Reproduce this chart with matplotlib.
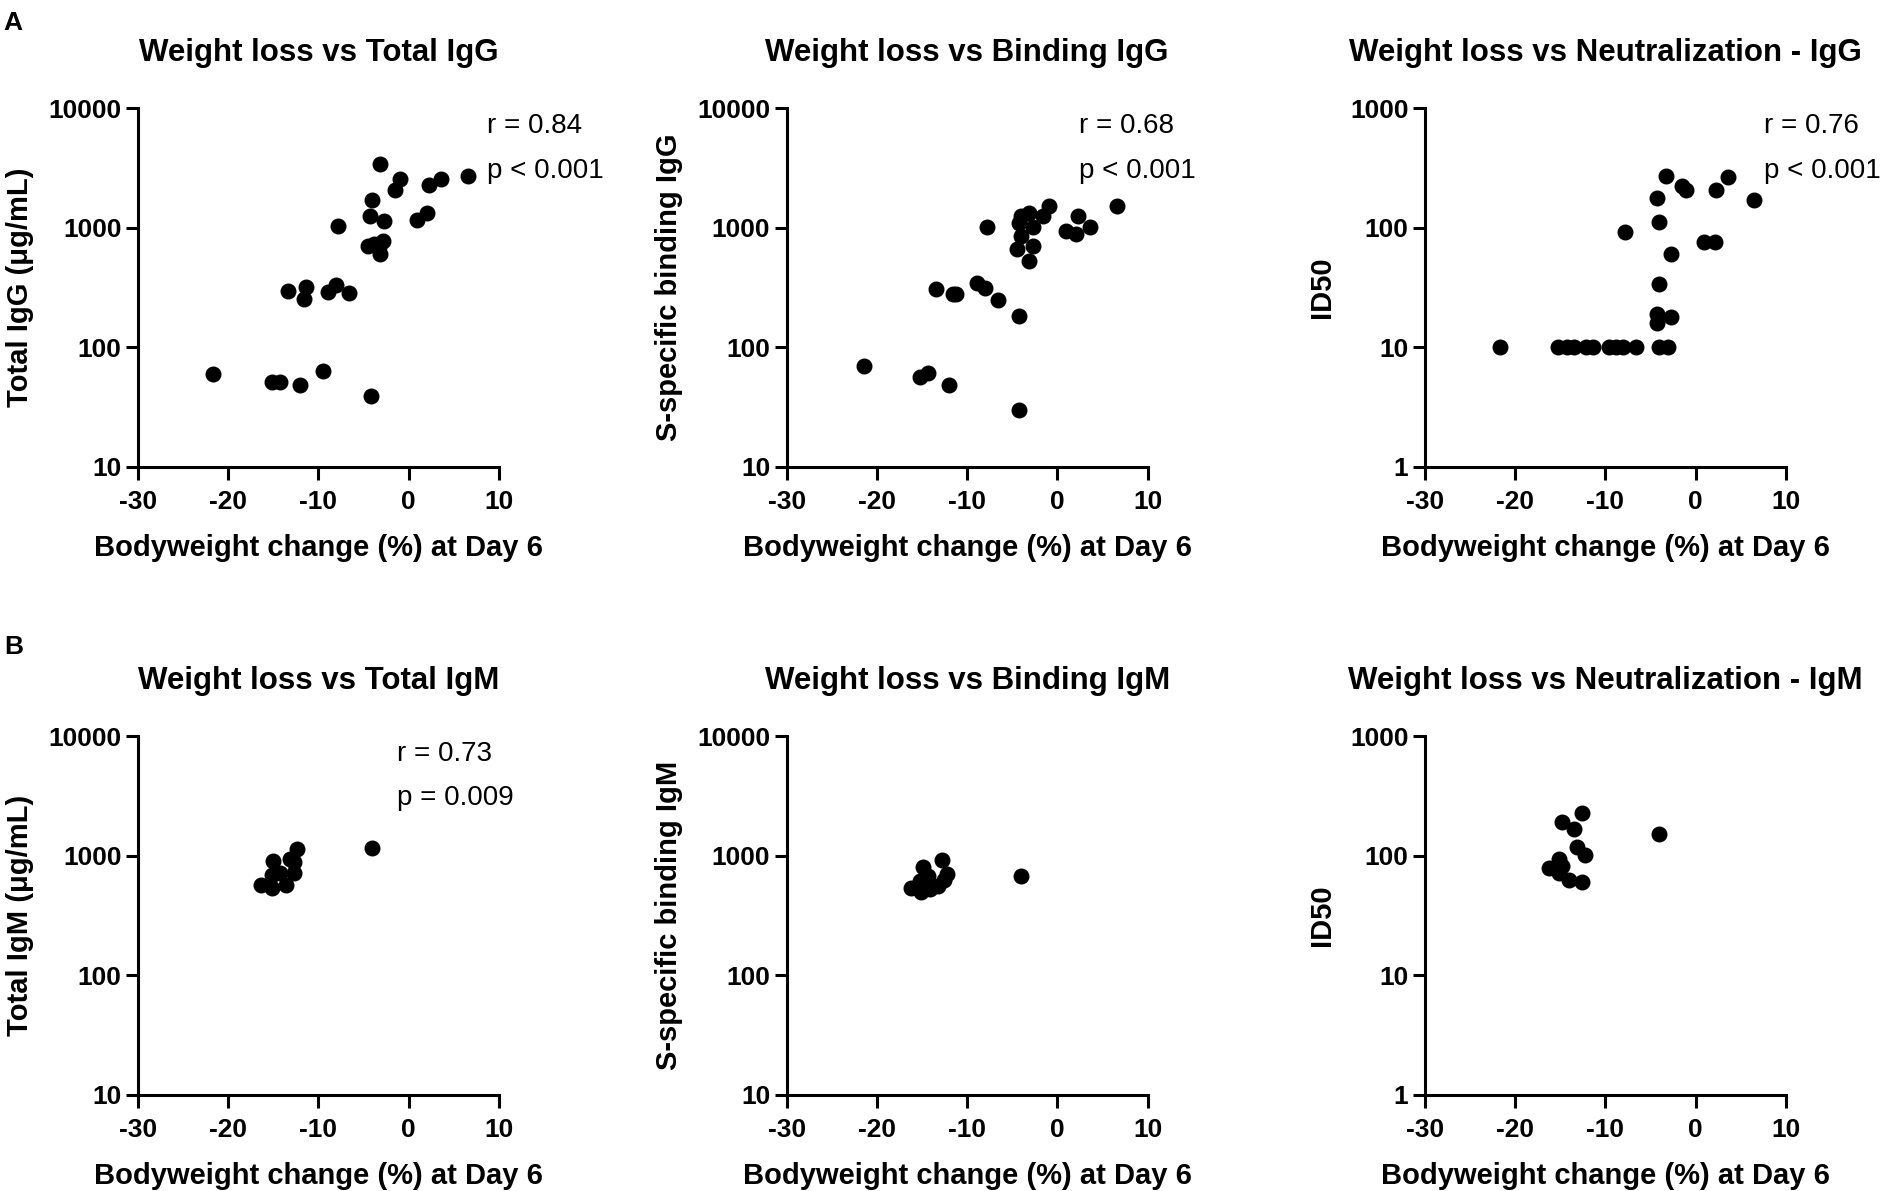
import matplotlib
matplotlib.use('Agg')
import matplotlib.pyplot as plt

plt.rcParams['font.family'] = ['Liberation Sans', 'DejaVu Sans']
plt.rcParams['axes.unicode_minus'] = False

# row A: IgG
igg_total_x = [-21.7, -15.2, -14.3, -12.0, -9.5, -4.2, -13.4, -11.4, -11.6, -8.9, -8.0, -6.6, -7.8, -4.3, -4.0,
               -2.7, -3.2, -1.5, -0.9, 0.9, 2.1, 2.3, 3.6, 6.6, -4.5, -3.8, -3.3, -2.8, -3.2]
igg_total_y = [60, 51, 51, 48, 64, 39, 294, 321, 254, 288, 330, 283, 1045, 1265, 1698,
               1150, 3447, 2070, 2555, 1160, 1324, 2291, 2555, 2722, 700, 740, 690, 780, 600]
igg_bind_x = [-21.5, -15.2, -14.3, -12.0, -4.3, -13.5, -11.6, -11.3, -8.9, -8.0, -6.6, -4.3, -7.8, -4.3,
              -4.0, -3.2, -4.0, -4.5, -2.7, -3.2, -2.7, -1.6, -0.9, 0.9, 2.1, 2.3, 3.6, 6.6]
igg_bind_y = [70, 56, 61, 48, 30, 308, 282, 278, 348, 316, 251, 184, 1013, 1100,
              1268, 1342, 852, 660, 703, 528, 1013, 1268, 1515, 938, 891, 1268, 1026, 1535]
igg_neut_x = [-21.7, -15.2, -14.3, -13.5, -12.2, -11.4, -9.6, -8.8, -8.0, -6.6, -4.1, -3.1, -7.8, -4.3,
              -4.0, -3.3, -2.7, -4.0, -4.3, -4.3, -2.7, -1.5, -1.0, 0.9, 2.2, 2.3, 3.6, 6.5]
igg_neut_y = [10, 10, 10, 10, 10, 10, 10, 10, 10, 10, 10, 10, 92, 178,
              111, 272, 61, 34, 19, 16, 18, 225, 207, 76, 76, 208, 264, 172]

# row B: IgM
igm_total_x = [-16.4, -15.2, -15.0, -15.2, -14.3, -13.6, -13.2, -12.7, -12.7, -12.4, -4.1]
igm_total_y = [563, 535, 903, 691, 713, 570, 932, 875, 713, 1129, 1150]
igm_bind_x = [-16.2, -15.1, -14.9, -15.2, -14.1, -13.2, -12.8, -12.3, -12.6, -14.3, -4.0]
igm_bind_y = [536, 493, 800, 608, 520, 560, 920, 705, 630, 670, 669]
igm_neut_x = [-16.3, -15.1, -14.8, -14.8, -15.1, -14.0, -13.5, -13.2, -12.6, -12.3, -12.6, -4.0]
igm_neut_y = [79, 93, 189, 81, 71, 63, 166, 119, 225, 101, 60, 150]

titles = ['Weight loss vs Total IgG', 'Weight loss vs Binding IgG', 'Weight loss vs Neutralization - IgG',
          'Weight loss vs Total IgM', 'Weight loss vs Binding IgM', 'Weight loss vs Neutralization - IgM']
ylabels = ['Total IgG (\u03bcg/mL)', 'S-specific binding IgG', 'ID50',
           'Total IgM (\u03bcg/mL)', 'S-specific binding IgM', 'ID50']
stats = [('r = 0.84', 'p < 0.001'), ('r = 0.68', 'p < 0.001'), ('r = 0.76', 'p < 0.001'),
         ('r = 0.73', 'p = 0.009'), None, None]
stat_x = [0.967, 0.81, 0.94, 0.717, 0, 0]
xs = [igg_total_x, igg_bind_x, igg_neut_x, igm_total_x, igm_bind_x, igm_neut_x]
ys = [igg_total_y, igg_bind_y, igg_neut_y, igm_total_y, igm_bind_y, igm_neut_y]
neut = [False, False, True, False, False, True]

fig = plt.figure(figsize=(18.84, 11.91), dpi=100)
lefts = [0.0733, 0.4177, 0.7564]
bottoms = [0.608, 0.081]
w, h = 0.1914, 0.301

for i in range(6):
    ax = fig.add_axes([lefts[i % 3], bottoms[i // 3], w, h])
    ax.scatter(xs[i], ys[i], s=110, color='black', zorder=3, clip_on=False)
    ax.set_yscale('log')
    ax.set_xlim(-30, 10)
    if neut[i]:
        ax.set_ylim(1, 1000)
        ax.set_yticks([1, 10, 100, 1000])
        ax.set_yticklabels(['1', '10', '100', '1000'])
    else:
        ax.set_ylim(10, 10000)
        ax.set_yticks([10, 100, 1000, 10000])
        ax.set_yticklabels(['10', '100', '1000', '10000'])
    ax.minorticks_off()
    ax.set_xticks([-30, -20, -10, 0, 10])
    ax.spines[['top', 'right']].set_visible(False)
    for s in ['left', 'bottom']:
        ax.spines[s].set_linewidth(2.2)
    ax.tick_params(width=2.2, length=9, labelsize=19)
    ax.tick_params(axis='x', pad=8)
    ax.tick_params(axis='y', pad=3)
    for lab in ax.get_xticklabels() + ax.get_yticklabels():
        lab.set_fontweight('bold')
    ax.set_title(titles[i], fontsize=22.5, fontweight='bold', pad=34)
    ax.set_xlabel('Bodyweight change (%) at Day 6', fontsize=21, fontweight='bold', labelpad=14)
    ax.set_ylabel(ylabels[i], fontsize=21, fontweight='bold', labelpad=10)
    if stats[i]:
        ax.text(stat_x[i], 0.95, stats[i][0], transform=ax.transAxes, fontsize=20, va='center', ha='left', clip_on=False)
        ax.text(stat_x[i], 0.826, stats[i][1], transform=ax.transAxes, fontsize=20, va='center', ha='left', clip_on=False)

fig.text(0.002, 0.981, 'A', fontsize=19, fontweight='bold', va='center')
fig.text(0.002, 0.457, 'B', fontsize=19, fontweight='bold', va='center')

fig.savefig('out.png', dpi=100)
